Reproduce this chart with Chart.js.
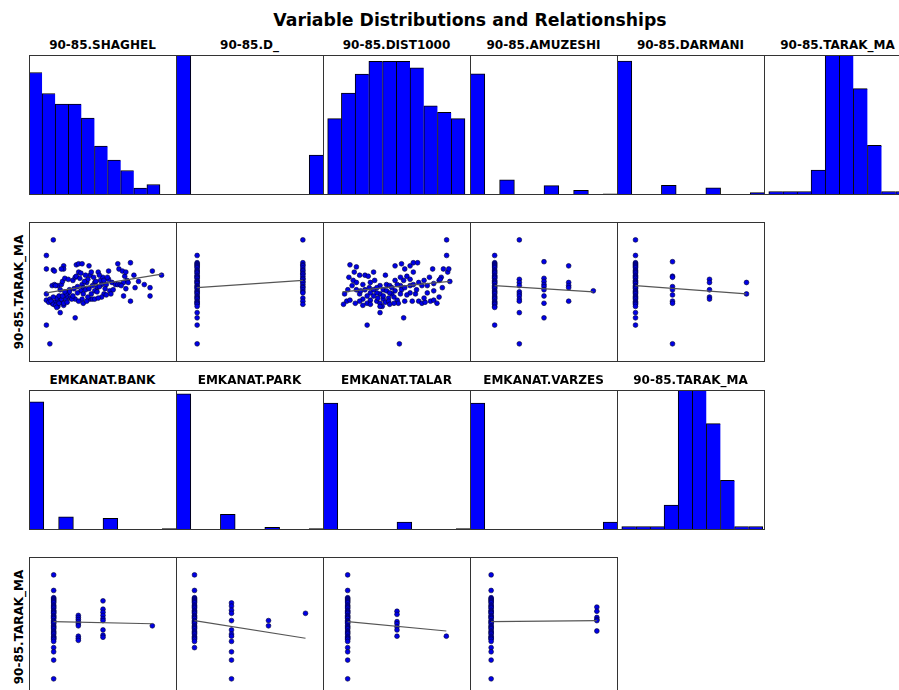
<!DOCTYPE html>
<html>
<head>
<meta charset="utf-8">
<script src="https://cdn.jsdelivr.net/npm/chart.js@4.4.0/dist/chart.umd.min.js"></script>
<style>
  body { margin: 0; width: 899px; height: 690px; overflow: hidden; background: #fff; position: relative; font-family: "DejaVu Sans", sans-serif; }
  canvas { position: absolute; }
  .lbl { position: absolute; font-weight: bold; font-size: 12px; line-height: 14px; height: 14px; text-align: center; color: #000; white-space: nowrap; }
  #title { position: absolute; left: 0; top: 10px; width: 940px; text-align: center; font-weight: bold; font-size: 17.3px; line-height: 21px; color: #000; }
</style>
</head>
<body>
<div id="title">Variable Distributions and Relationships</div>
<script>
// histogram counts, 10 bins each
const shaghelHist  = [35, 29, 26, 26, 22, 14, 10, 7, 2, 3];
const dHist        = [145, 0, 0, 0, 0, 0, 0, 0, 0, 29];
const distHist     = [12, 16, 19, 21, 21, 21, 20, 14, 13, 12];
const amuzeshiHist = [103, 0, 13, 0, 0, 8, 0, 4, 0, 1];
const darmaniHist  = [111, 0, 0, 8, 0, 0, 6, 0, 0, 2];
const tarakHist    = [1, 1, 1, 7, 60, 60, 30, 14, 1, 1];
const bankHist     = [98, 0, 10, 0, 0, 9, 0, 0, 0, 1];
const parkHist     = [104, 0, 0, 12, 0, 0, 2, 0, 0, 1];
const talarHist    = [97, 0, 0, 0, 0, 6, 0, 0, 0, 1];
const varzesHist   = [97, 0, 0, 0, 0, 0, 0, 0, 0, 6];

// continuous x vs 90-85.TARAK_MA, [x, y]
const shaghelPts = [
  [0.6,10.0],[0.0,8.5],[0.0,7.2],[0.6,7.1],[0.7,7.0],[1.5,7.5],[1.5,7.2],[1.3,7.2],[2.6,7.6],[2.8,7.7],[3.1,7.7],[3.7,7.5],
  [0.0,4.8],[0.0,4.2],[0.3,4.3],[0.5,3.9],[0.7,4.0],[1.0,3.6],[1.0,4.2],[1.3,4.1],[1.3,4.3],[1.5,3.7],[1.5,3.9],[1.7,4.3],
  [1.2,3.0],[0.0,1.8],[0.3,0.0],[2.5,2.5],
  [0.5,5.6],[0.7,5.7],[1.0,5.6],[1.3,5.7],[1.4,6.0],[1.6,6.3],[1.9,6.2],[2.0,5.2],[1.9,4.9],[1.8,4.6],[2.1,4.4],[2.0,5.0],
  [2.3,6.1],[2.5,6.4],[2.6,6.5],[2.8,6.9],[2.9,6.3],[3.1,5.7],[3.2,5.4],[3.0,5.1],[2.7,4.9],[2.5,4.3],[3.1,4.3],[3.2,4.8],
  [3.4,5.2],[3.5,5.9],[3.6,6.2],[3.8,6.6],[3.9,6.9],[4.1,6.4],[4.2,5.9],[4.4,5.4],[4.2,5.1],[3.9,4.8],[3.8,4.3],[3.6,4.5],
  [4.5,6.9],[4.7,6.1],[4.8,5.7],[4.9,6.4],[5.0,6.1],[5.2,5.7],[5.1,5.3],[5.0,4.8],[4.8,4.5],[5.4,7.0],[5.4,6.2],[5.5,5.1],
  [5.6,4.8],[5.2,4.7],[5.7,5.9],[6.0,5.7],[6.2,5.7],[6.4,5.7],[6.2,7.7],[6.3,7.2],[6.6,7.0],[6.8,6.5],[6.9,6.9],[7.0,6.1],
  [6.7,5.9],[7.1,5.9],[7.3,7.8],[7.3,4.1],[6.7,4.6],[7.7,5.4],[8.5,5.7],[9.0,4.6],[9.0,5.4],[9.2,7.0],[10.0,6.6],
  [1.7,4.8],[2.2,4.3],[2.8,4.1],[3.2,3.9],[3.5,4.1],[4.0,4.3],[4.2,4.3],[4.5,4.4],
  [0.2,4.0],[0.4,4.1],[0.6,3.8],[0.8,3.7],[0.9,4.4],[1.1,3.9],[1.1,4.6],[0.6,4.5],[0.9,3.5],[1.4,4.6],[1.8,4.0],[2.3,4.6],
  [2.4,5.3],[1.6,5.0],[1.2,5.2],[0.8,5.6],[2.7,5.5],[3.3,6.0],[3.7,5.3],[4.0,5.6],[4.3,6.0],[4.6,5.5],[4.4,5.0],[3.0,6.8],
  [3.4,6.6],[4.6,6.6],[5.3,6.4],[5.8,5.2],[6.5,5.6],[7.6,6.6],[8.0,6.0],[6.9,5.3]
];
const distPts = [
  [9.7,10.0],[9.7,8.5],[0.7,7.6],[1.3,7.4],[1.1,6.9],[0.6,6.4],[1.0,6.1],[1.3,5.9],[1.6,6.6],[2.1,6.6],[1.9,5.7],[2.4,6.5],
  [2.9,6.9],[3.0,6.1],[2.6,5.9],[3.5,5.6],[4.0,6.6],[4.1,5.7],[4.4,5.6],[4.9,7.5],[5.5,7.7],[5.8,7.2],[6.3,7.5],[6.6,7.8],
  [7.0,7.8],[6.6,6.9],[6.0,6.5],[5.7,6.1],[5.4,5.6],[4.9,5.1],[4.6,4.8],[4.3,4.4],[3.8,4.3],[3.5,4.8],[3.2,4.9],[2.9,5.2],
  [2.6,4.9],[2.3,4.6],[1.9,4.3],[1.6,4.8],[1.2,3.9],[0.4,4.1],[0.1,3.8],[0.2,4.8],[0.5,5.2],[0.9,5.6],[1.3,5.2],[1.7,5.1],
  [2.1,5.2],[2.5,5.4],[3.2,5.4],[3.8,5.2],[4.1,5.1],[4.6,5.4],[5.1,5.7],[5.5,5.2],[5.8,5.4],[6.3,5.6],[6.6,5.7],[7.1,5.9],
  [7.4,5.6],[7.6,6.1],[7.9,5.6],[8.1,6.4],[8.4,7.2],[8.5,5.8],[9.0,6.1],[9.2,6.4],[9.4,7.2],[9.8,6.9],[10.0,6.0],[9.9,7.2],
  [1.6,4.1],[2.3,3.9],[2.6,4.2],[3.2,4.1],[3.5,3.9],[3.7,3.6],[4.0,4.0],[4.3,4.1],[4.8,4.5],[5.1,4.2],[5.2,3.9],[5.8,4.1],
  [6.5,4.1],[7.1,4.1],[7.4,3.9],[7.7,4.0],[8.2,4.1],[8.5,4.2],[8.8,3.9],[9.0,4.5],[7.6,4.4],[6.8,4.8],[6.3,4.9],[6.0,4.7],
  [5.4,4.8],[4.8,3.9],[4.4,3.8],[2.6,3.8],[1.9,3.7],[0.7,4.2],[3.5,3.0],[3.5,3.6],[2.3,1.8],[5.7,2.5],[5.3,0.0],
  [3.8,4.6],[3.3,4.4],[2.9,4.6],[4.4,4.9],[4.9,6.1],[5.4,6.4],[6.3,6.2],[6.9,5.2],[7.9,4.9],[8.5,5.1],[9.1,6.2],[9.3,5.4]
];

// discrete x: values and the 90-85.TARAK_MA readings in each column
const tarakCore = [7.8, 7.7, 7.6, 7.5, 7.4, 7.3, 7.1, 7.0, 6.9, 6.8, 6.6, 6.5, 6.4, 6.3, 6.1, 6.0, 5.9, 5.8,
  5.6, 5.5, 5.4, 5.3, 5.1, 5.0, 4.9, 4.8, 4.6, 4.5, 4.4, 4.3, 4.1, 4.0, 3.9, 3.8, 3.6];

const dVals = [0, 1];
const dTarak = [
  [8.5, ...tarakCore, 3.0, 2.5, 1.8, 0.0],
  [10.0, 7.8, 7.6, 7.5, 7.3, 7.1, 7.0, 6.8, 6.7, 6.5, 6.3, 6.2, 6.0, 5.9, 5.7, 5.5, 5.4, 5.2, 5.0, 4.9, 4.4, 4.1, 3.8]
];
const amuzeshiVals = [0, 1, 2, 3, 4];
const amuzeshiTarak = [
  [8.5, ...tarakCore, 3.5, 1.8],
  [10.0, 6.2, 5.9, 5.6, 5.0, 4.8, 4.6, 4.3, 4.1, 3.0, 0.0],
  [7.9, 6.3, 6.0, 5.7, 5.5, 5.2, 4.6, 3.9, 2.5],
  [7.5, 5.9, 5.6, 5.4, 4.1],
  [5.1]
];
const darmaniVals = [0, 1, 2, 3];
const darmaniTarak = [
  [10.0, 8.5, ...tarakCore, 3.0, 2.5, 1.8],
  [7.9, 6.5, 6.4, 5.5, 5.2, 4.7, 4.1, 3.9, 0.0],
  [6.2, 5.9, 5.2, 4.5, 4.3],
  [5.9, 4.8]
];
const bankVals = [0, 1, 2, 4];
const bankTarak = [
  [10.0, 8.5, ...tarakCore, 3.0, 2.6, 1.8, 0.0],
  [6.1, 5.9, 5.7, 5.5, 5.3, 5.1, 4.1, 3.9, 3.7],
  [7.5, 6.7, 6.4, 6.1, 5.8, 5.6, 4.7, 4.2, 4.0],
  [5.1]
];
const parkVals = [0, 1, 2, 3];
const parkTarak = [
  [10.0, 8.5, ...tarakCore, 3.0],
  [7.3, 7.0, 6.6, 6.3, 5.6, 4.7, 4.3, 4.1, 3.6, 2.6, 1.8, 0.0],
  [5.6, 5.1],
  [6.3]
];
const talarVals = [0, 1, 2];
const talarTarak = [
  [10.0, 8.5, ...tarakCore, 3.0, 2.6, 1.8, 0.0],
  [6.5, 6.2, 5.5, 5.3, 5.0, 4.7, 4.1],
  [4.1]
];
const varzesVals = [0, 1];
const varzesTarak = [
  [10.0, 8.5, ...tarakCore, 3.0, 2.6, 1.8, 0.0],
  [6.9, 6.5, 5.9, 5.7, 5.6, 4.6]
];

// fitted lines: [x, y] at both ends
const shaghelTrend  = [[0, 4.9], [10, 6.7]];
const dTrend        = [[0, 5.4], [1, 6.1]];
const distTrend     = [[0, 5.0], [10, 6.0]];
const amuzeshiTrend = [[0, 5.6], [4, 5.0]];
const darmaniTrend  = [[0, 5.6], [3, 4.8]];
const bankTrend     = [[0, 5.5], [4, 5.3]];
const parkTrend     = [[0, 5.6], [3, 3.9]];
const talarTrend    = [[0, 5.5], [2, 4.6]];
const varzesTrend   = [[0, 5.5], [1, 5.6]];

const W = 147, H = 139;
const rowTop = [55, 222, 390, 557];
const colLeft = c => 29 + W * c;

const frame = {
  id: 'frame',
  afterDraw(chart) {
    const { ctx, chartArea: a } = chart;
    ctx.save();
    ctx.strokeStyle = '#333';
    ctx.lineWidth = 1;
    ctx.strokeRect(a.left + 0.5, a.top + 0.5, a.width - 1, a.height - 1);
    ctx.restore();
  }
};

function makeCanvas(row, col) {
  const c = document.createElement('canvas');
  c.width = W + 1;
  c.height = H + 1;
  c.style.left = colLeft(col) + 'px';
  c.style.top = rowTop[row] + 'px';
  document.body.appendChild(c);
  return c;
}

function addLabel(text, row, col) {
  const d = document.createElement('div');
  d.className = 'lbl';
  d.textContent = text;
  d.style.left = colLeft(col) + 'px';
  d.style.width = W + 'px';
  d.style.top = (rowTop[row] - 17) + 'px';
  document.body.appendChild(d);
}

function addYLabel(text, row) {
  const d = document.createElement('div');
  d.className = 'lbl';
  d.textContent = text;
  d.style.width = H + 'px';
  d.style.left = (18.5 - H / 2) + 'px';
  d.style.top = (rowTop[row] + H / 2 - 7) + 'px';
  d.style.transform = 'rotate(-90deg)';
  document.body.appendChild(d);
}

function baseOptions(xMin, xMax, yMin, yMax) {
  return {
    responsive: false,
    animation: false,
    events: [],
    layout: { padding: 0, autoPadding: false },
    plugins: { legend: { display: false }, tooltip: { enabled: false } },
    scales: {
      x: { type: 'linear', min: xMin, max: xMax, display: false, offset: false, ticks: { count: 2 } },
      y: { type: 'linear', min: yMin, max: yMax, display: false, ticks: { count: 2 } }
    }
  };
}

function addHist(row, col, title, counts, xMin, xMax, yMax) {
  addLabel(title, row, col);
  new Chart(makeCanvas(row, col), {
    type: 'bar',
    data: {
      datasets: [{
        data: counts.map((c, i) => ({ x: i + 0.5, y: c })),
        backgroundColor: '#0000ff',
        borderColor: '#000',
        borderWidth: ctx => ({ top: 1, left: 1, bottom: 0, right: counts[ctx.dataIndex + 1] > 0 ? 0 : 1 }),
        borderSkipped: false,
        barPercentage: 1,
        categoryPercentage: 1,
        clip: 0
      }]
    },
    options: baseOptions(xMin, xMax, 0, yMax),
    plugins: [frame]
  });
}

function addScatter(row, col, pts, trend, xMin, xMax) {
  new Chart(makeCanvas(row, col), {
    type: 'scatter',
    data: {
      datasets: [
        {
          data: trend.map(p => ({ x: p[0], y: p[1] })),
          showLine: true,
          pointRadius: 0,
          borderColor: '#555',
          borderWidth: 1.2,
          order: 0
        },
        {
          data: pts,
          backgroundColor: '#0000e6',
          borderColor: '#000033',
          borderWidth: 0.6,
          pointRadius: 2.4,
          order: 1
        }
      ]
    },
    options: baseOptions(xMin, xMax, -1.75, 11.72),
    plugins: [frame]
  });
}

const pairs = list => list.map(p => ({ x: p[0], y: p[1] }));
const columns = (vals, ys) => vals.flatMap((v, i) => ys[i].map(y => ({ x: v, y })));

addHist(0, 0, '90-85.SHAGHEL', shaghelHist, 0, 11.3, 40);
addHist(0, 1, '90-85.D_', dHist, 0, 10, 102);
addHist(0, 2, '90-85.DIST1000', distHist, -0.34, 10.44, 22);
addHist(0, 3, '90-85.AMUZESHI', amuzeshiHist, 0, 10, 119);
addHist(0, 4, '90-85.DARMANI', darmaniHist, 0, 10, 116);
addHist(0, 5, '90-85.TARAK_MA', tarakHist, -0.34, 10.16, 39.5);

addScatter(1, 0, pairs(shaghelPts), shaghelTrend, -1.51, 11.34);
addScatter(1, 1, columns(dVals, dTarak), dTrend, -0.2, 1.2);
addScatter(1, 2, pairs(distPts), distTrend, -1.81, 11.97);
addScatter(1, 3, columns(amuzeshiVals, amuzeshiTarak), amuzeshiTrend, -1, 5);
addScatter(1, 4, columns(darmaniVals, darmaniTarak), darmaniTrend, -0.5, 3.5);
addYLabel('90-85.TARAK_MA', 1);

addHist(2, 0, 'EMKANAT.BANK', bankHist, 0, 10, 107);
addHist(2, 1, 'EMKANAT.PARK', parkHist, 0, 10, 107);
addHist(2, 2, 'EMKANAT.TALAR', talarHist, 0, 10, 107);
addHist(2, 3, 'EMKANAT.VARZES', varzesHist, 0, 10, 107);
addHist(2, 4, '90-85.TARAK_MA', tarakHist, -0.34, 10.16, 39.5);

addScatter(3, 0, columns(bankVals, bankTarak), bankTrend, -1, 5);
addScatter(3, 1, columns(parkVals, parkTarak), parkTrend, -0.5, 3.5);
addScatter(3, 2, columns(talarVals, talarTarak), talarTrend, -0.5, 2.5);
addScatter(3, 3, columns(varzesVals, varzesTarak), varzesTrend, -0.2, 1.2);
addYLabel('90-85.TARAK_MA', 3);
</script>
</body>
</html>
